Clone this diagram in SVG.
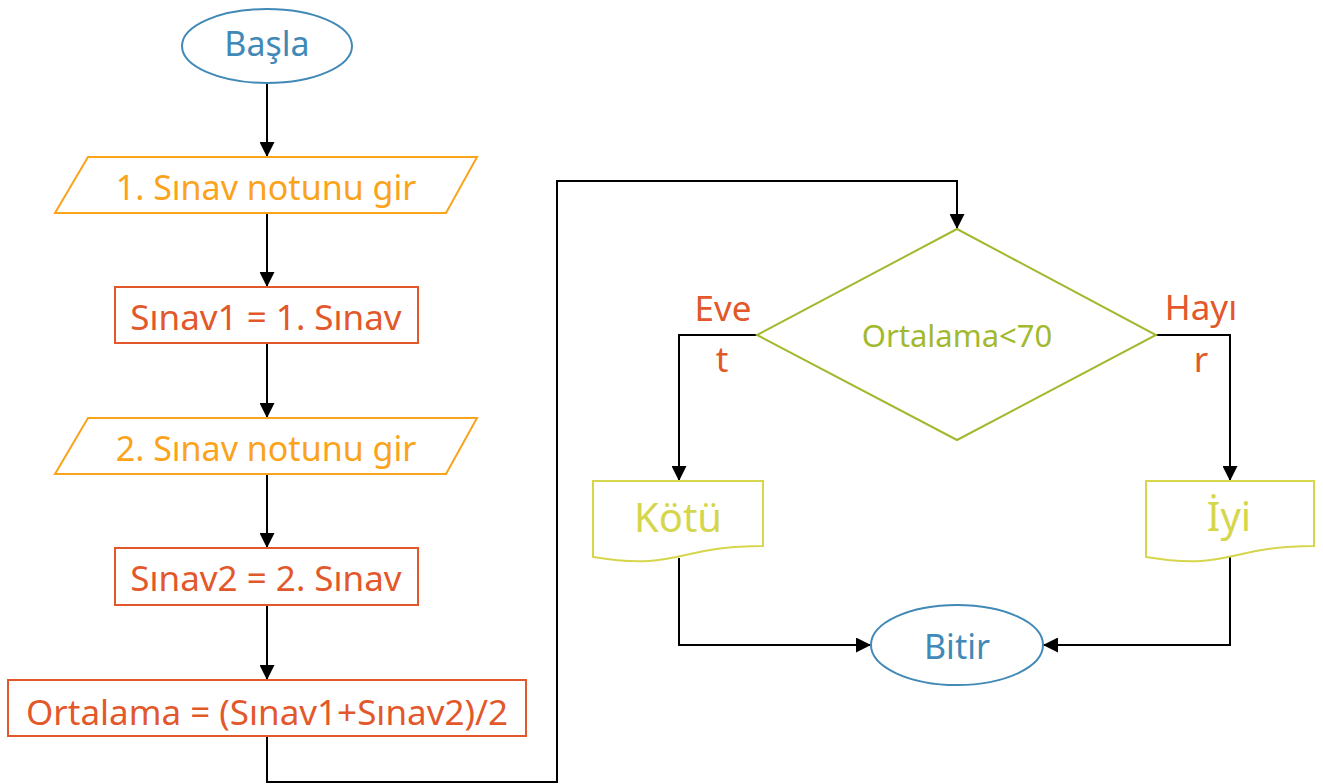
<svg xmlns="http://www.w3.org/2000/svg" width="1323" height="784" viewBox="0 0 1323 784">
  <style>
    text { font-family: "Noto Sans", "Open Sans", sans-serif; text-anchor: middle; }
    .term { fill: #ffffff; stroke: #4189b6; stroke-width: 2; }
    .term-t { fill: #4189b6; font-size: 34px; }
    .io { fill: #ffffff; stroke: #fba31a; stroke-width: 2; }
    .io-t { fill: #fba31a; font-size: 34px; }
    .proc { fill: #ffffff; stroke: #e2582b; stroke-width: 2; }
    .proc-t { fill: #e2582b; font-size: 35px; }
    .dec { fill: #ffffff; stroke: #a2b92f; stroke-width: 2; }
    .dec-t { fill: #a2b92f; font-size: 31px; }
    .doc { fill: #ffffff; stroke: #d6d64c; stroke-width: 2; }
    .doc-t { fill: #d6d64c; font-size: 40px; }
    .lbl { fill: #e2582b; font-size: 35px; }
    .conn { fill: none; stroke: #000000; stroke-width: 2; }
  </style>
  <defs>
    <marker id="arrow" viewBox="0 0 15 15" refX="15" refY="7.5" markerWidth="15" markerHeight="15" markerUnits="userSpaceOnUse" orient="auto">
      <path d="M0,0 L15,7.5 L0,15 Z" fill="#000000"/>
    </marker>
  </defs>

  <!-- connectors -->
  <g id="connectors">
    <path class="conn" d="M267,83 V157" marker-end="url(#arrow)"/>
    <path class="conn" d="M267,213 V287" marker-end="url(#arrow)"/>
    <path class="conn" d="M267,343 V418" marker-end="url(#arrow)"/>
    <path class="conn" d="M267,474 V548" marker-end="url(#arrow)"/>
    <path class="conn" d="M267,605 V680" marker-end="url(#arrow)"/>
    <path class="conn" d="M267,736 V782 H557 V181 H957 V229" marker-end="url(#arrow)"/>
    <path class="conn" d="M757,335 H679 V481" marker-end="url(#arrow)"/>
    <path class="conn" d="M1156,335 H1230 V481" marker-end="url(#arrow)"/>
    <path class="conn" d="M679,558 V645 H871" marker-end="url(#arrow)"/>
    <path class="conn" d="M1230,557 V645 H1043" marker-end="url(#arrow)"/>
  </g>

  <g id="start">
    <ellipse class="term" cx="267" cy="46" rx="85" ry="37"/>
    <text class="term-t" x="267" y="56">Başla</text>
  </g>

  <g id="input1">
    <polygon class="io" points="88,157 477,157 446,213 55,213"/>
    <text class="io-t" x="266" y="200">1. Sınav notunu gir</text>
  </g>

  <g id="assign1">
    <rect class="proc" x="115" y="287" width="303" height="56"/>
    <text class="proc-t" x="266" y="330">Sınav1 = 1. Sınav</text>
  </g>

  <g id="input2">
    <polygon class="io" points="88,418 477,418 446,474 55,474"/>
    <text class="io-t" x="266" y="461">2. Sınav notunu gir</text>
  </g>

  <g id="assign2">
    <rect class="proc" x="115" y="548" width="303" height="57"/>
    <text class="proc-t" x="266" y="591">Sınav2 = 2. Sınav</text>
  </g>

  <g id="average">
    <rect class="proc" x="8" y="680" width="518" height="56"/>
    <text class="proc-t" x="267" y="725">Ortalama = (Sınav1+Sınav2)/2</text>
  </g>

  <g id="decision">
    <polygon class="dec" points="957,229 1156,335 957,440 757,335"/>
    <text class="dec-t" x="957" y="347">Ortalama&lt;70</text>
  </g>

  <g id="label-yes">
    <text class="lbl" x="723" y="321">Eve</text>
    <text class="lbl" x="722" y="372">t</text>
  </g>

  <g id="label-no">
    <text class="lbl" x="1201" y="320">Hayı</text>
    <text class="lbl" x="1201" y="372">r</text>
  </g>

  <g id="bad">
    <path class="doc" d="M593,481 H763 V546 C678,546 678,571 593,557 Z"/>
    <text class="doc-t" x="678" y="532">Kötü</text>
  </g>

  <g id="good">
    <path class="doc" d="M1146,481 H1314 V546 C1230,546 1230,571 1146,557 Z"/>
    <text class="doc-t" x="1229" y="531">İyi</text>
  </g>

  <g id="end">
    <ellipse class="term" cx="957" cy="645" rx="86" ry="40"/>
    <text class="term-t" x="957" y="659">Bitir</text>
  </g>
</svg>
